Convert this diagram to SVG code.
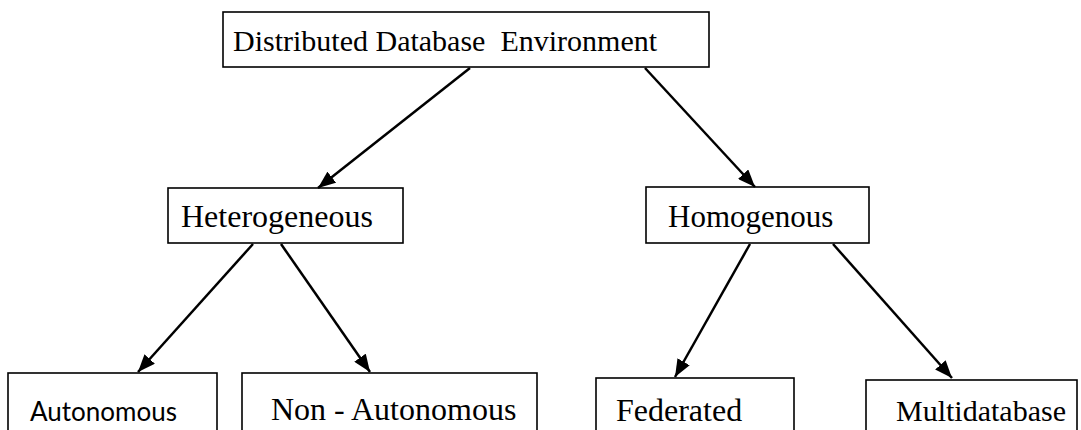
<svg xmlns="http://www.w3.org/2000/svg" width="1081" height="430" viewBox="0 0 1081 430">
<style>
.box{fill:#fff;stroke:#000;stroke-width:1.6}
.t{font-family:"Liberation Serif","Times New Roman",serif;font-size:31px;fill:#000}
.s{font-family:Lato,"Open Sans",sans-serif;font-size:26px;fill:#000}
.c line{stroke:#000;stroke-width:2.5}
</style>
<defs>
<marker id="ah" viewBox="0 0 10 8" refX="10" refY="4" markerWidth="7" markerHeight="5.6" markerUnits="strokeWidth" orient="auto">
<path d="M0,0 L10,4 L0,8 z" fill="#000"/>
</marker>
</defs>
<rect width="1081" height="430" fill="#fff"/>
<g id="n-root"><rect class="box" x="223" y="12" width="486" height="55"/><text class="t" x="233" y="51" style="font-size:30px" xml:space="preserve">Distributed Database  Environment</text></g>
<g id="n-het"><rect class="box" x="168" y="188" width="235" height="55"/><text class="t" x="181" y="227" style="font-size:32px">Heterogeneous</text></g>
<g id="n-hom"><rect class="box" x="646" y="187" width="223" height="56"/><text class="t" x="668" y="227">Homogenous</text></g>
<g id="n-auto"><rect class="box" x="8" y="373" width="209" height="70"/><text class="s" x="30" y="421">Autonomous</text></g>
<g id="n-nonauto"><rect class="box" x="242" y="373" width="295" height="70"/><text class="t" x="271" y="420" style="font-size:32px">Non - Autonomous</text></g>
<g id="n-fed"><rect class="box" x="596" y="378" width="198" height="65"/><text class="t" x="616" y="421" style="font-size:32px">Federated</text></g>
<g id="n-multi"><rect class="box" x="866" y="380" width="211" height="63"/><text class="t" x="896" y="421" style="font-size:30px">Multidatabase</text></g>
<g class="c" id="connectors">
<line x1="470" y1="68" x2="318" y2="188" marker-end="url(#ah)"/>
<line x1="645" y1="68" x2="755" y2="187" marker-end="url(#ah)"/>
<line x1="253" y1="244" x2="138" y2="372" marker-end="url(#ah)"/>
<line x1="281" y1="244" x2="370" y2="372" marker-end="url(#ah)"/>
<line x1="750" y1="244" x2="675" y2="377" marker-end="url(#ah)"/>
<line x1="833" y1="244" x2="952" y2="378" marker-end="url(#ah)"/>
</g>
</svg>
